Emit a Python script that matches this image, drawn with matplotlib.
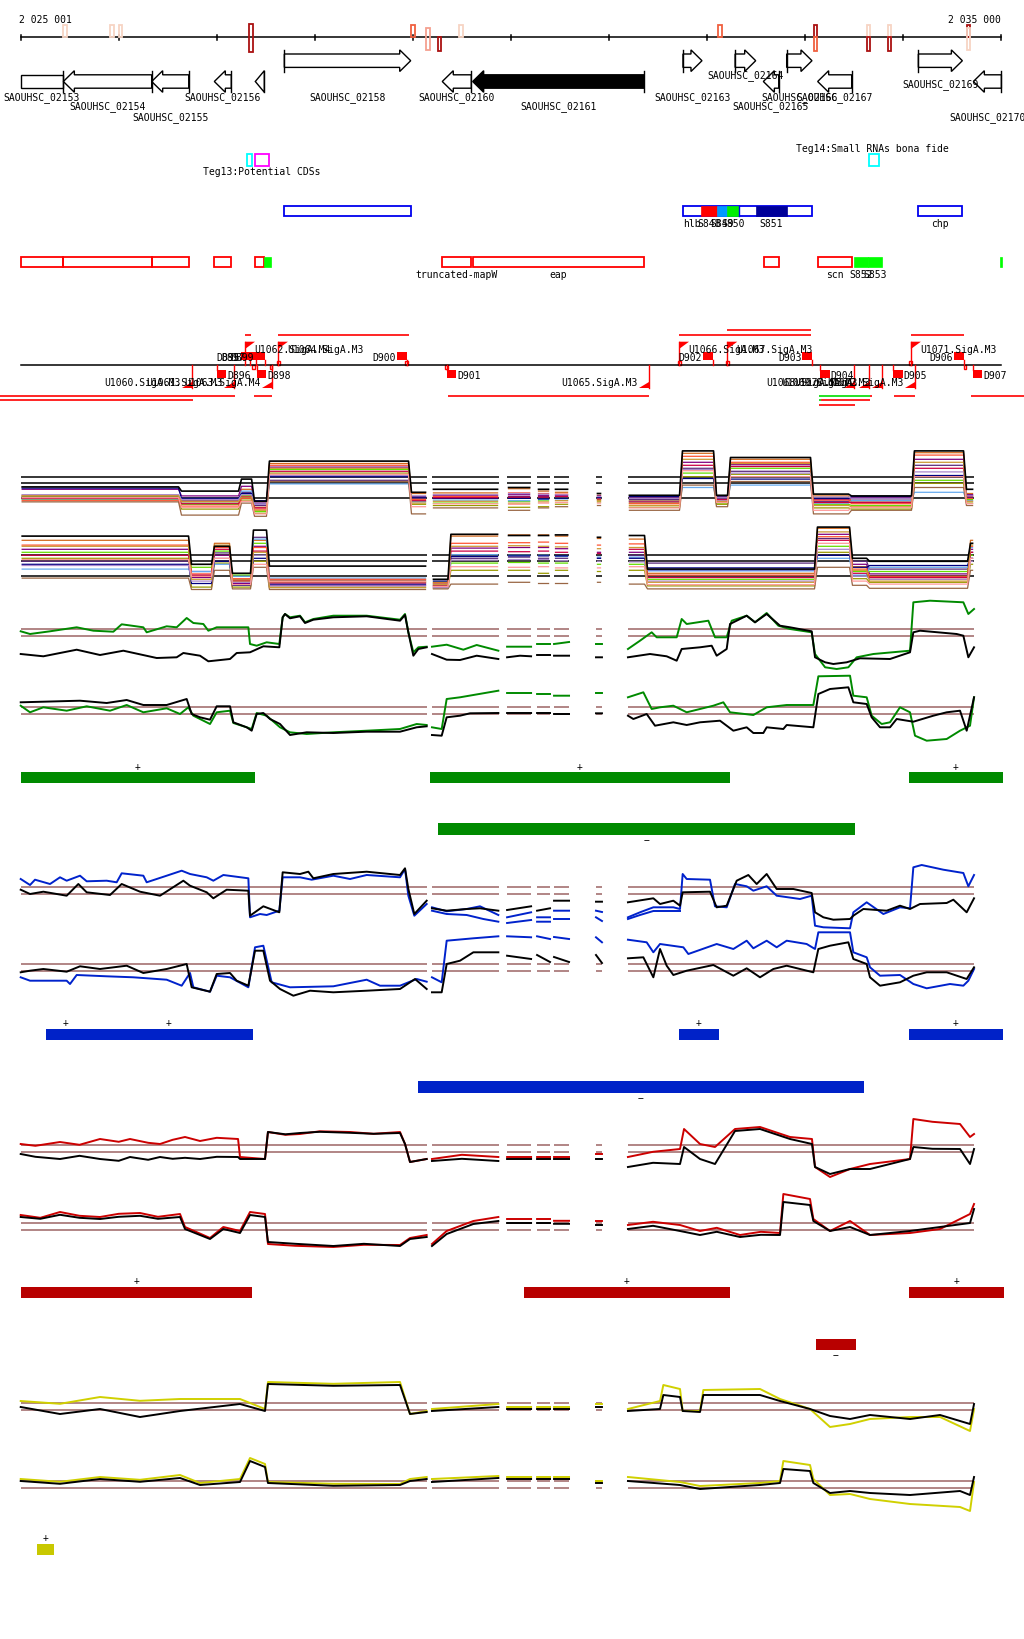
import numpy as np
import matplotlib
matplotlib.use("Agg")
import matplotlib.pyplot as plt
from matplotlib.patches import Rectangle, Polygon

# ======================= DATA (positions = bp offset from 2 025 001) =======================
scale_ticks = [0, 999, 1999, 2999, 3999, 4999, 5999, 6999, 7999, 8999, 9999]
scale_first, scale_last = "2 025 001", "2 035 000"

mark_pos = [452, 931, 1017, 2349, 4004, 4157, 4270, 4491, 7133, 8109, 8109, 8646, 8646, 8860, 8860, 9666, 9666]
mark_color = ['#f7d4c4', '#f7d4c4', '#f7d4c4', '#aa1111', '#f06040', '#f4a090', '#aa1111', '#f7d4c4',
              '#f06040', '#aa1111', '#f06040', '#f7d4c4', '#aa1111', '#f7d4c4', '#aa1111', '#aa1111', '#f7d4c4']
mark_kind = ['up', 'up', 'up', 'full', 'up', 'mid', 'down', 'up', 'up', 'up', 'down', 'up', 'down', 'up', 'down', 'up', 'mid']

gene_names = ['SAOUHSC_02153', 'SAOUHSC_02154', 'SAOUHSC_02155', 'SAOUHSC_02156', '', 'SAOUHSC_02158',
              'SAOUHSC_02160', 'SAOUHSC_02161', 'SAOUHSC_02163', 'SAOUHSC_02164', 'SAOUHSC_02165',
              'SAOUHSC_02166', 'SAOUHSC_02167', 'SAOUHSC_02169', 'SAOUHSC_02170']
gene_start = [-400, 435, 1336, 1975, 2393, 2689, 4300, 4610, 6755, 7287, 7575, 7813, 8129, 9156, 9717]
gene_end = [435, 1336, 1714, 2148, 2485, 3978, 4596, 6358, 6949, 7497, 7732, 8071, 8476, 9605, 10003]
gene_strand = ['-', '-', '-', '-', '-', '+', '-', '-', '+', '+', '-', '+', '-', '+', '-']
gene_solid = [False] * 7 + [True] + [False] * 7
gene_label_row = [2, 3, 4, 2, None, 2, 2, 3, 2, 0, 3, 2, 2, 1, 4]

teg_boxes = [(2311, 2362, 'cyan'), (2393, 2536, 'magenta'), (8656, 8758, 'cyan')]
teg_labels = [("Teg13:Potential CDSs", 2454, 'below'), ("Teg14:Small RNAs bona fide", 8688, 'above')]

blue_outline = [(2689, 3978), (6755, 8071), (9156, 9605)]
blue_fills = [(6942, 7105, '#ff0000'), (7105, 7207, '#0099ff'), (7207, 7324, '#00ee00'), (7499, 7819, '#000099')]
blue_labels = [("hlb", 6842), ("S848", 7023), ("S849", 7156), ("S850", 7265), ("S851", 7659), ("chp", 9380)]

red_outline = [(0, 435), (435, 1336), (1336, 1714), (1975, 2148), (2393, 2485), (4300, 4596),
               (4610, 6358), (7578, 7732), (8129, 8476)]
red_fills = [(2485, 2553), (8500, 8640), (8640, 8782), (9992, 10012)]
red_labels = [("truncated-mapW", 4448), ("eap", 5484), ("scn", 8302), ("S852", 8570), ("S853", 8711)]

prom_plus_names = ["U1062.SigA.M4", "U1064.SigA.M3", "U1066.SigA.M3", "U1067.SigA.M3", "U1071.SigA.M3"]
prom_plus_pos = [2288, 2624, 6715, 7207, 9080]
prom_minus_names = ["U1060.SigA.M3", "U1061.SigA.M3", "U1063.SigA.M4", "U1065.SigA.M3",
                    "U1068.SigA.M3", "U1069.SigA.M3", "U1070.SigA.M3", "U1072.SigA.M3"]
prom_minus_pos = [1751, 2179, 2560, 6409, 8500, 8656, 8782, 9122]
term_plus_names = ["D895", "D897", "D899", "D900", "D902", "D903", "D906"]
term_plus_pos = [2244, 2300, 2393, 3841, 6963, 7974, 9520]
term_minus_names = ["D896", "D898", "D901", "D904", "D905", "D907"]
term_minus_pos = [1999, 2407, 4345, 8153, 8898, 9713]
tss_plus_pos = [2626, 3937, 6715, 7207, 9080]
tss_minus_pos = [2376, 2553, 4345, 9632]
# (row, start, end, color)
feature_lines = [(0, 2624, 3958, 'r'), (0, 2288, 2346, 'r'), (0, 6715, 8061, 'r'), (-1, 7207, 8061, 'r'),
                 (0, 9080, 9624, 'r'), (1, -211, 2186, 'r'), (2, -211, 1754, 'r'), (1, 2383, 2560, 'r'),
                 (1, 4362, 6409, 'r'), (1, 8909, 9122, 'r'), (1, 9690, 10240, 'r'), (1, 8144, 8663, 'g'),
                 (2, 8144, 8164, 'g'), (2, 8164, 8663, 'r'), (3, 8144, 8507, 'r'), (1, 8663, 8687, 'r')]

# probe gaps (no data)
gaps = [(4144, 4195), (4879, 4961), (5206, 5267), (5399, 5440), (5593, 5868), (5929, 6194)]
data_end = 9724

# ---------- multi-condition tracks (levels per data interval) ----------
mt_colors = ['#000000', '#5a2a7a', '#d2691e', '#800080', '#66dd00', '#999900', '#66aaee',
             '#000080', '#ff5533', '#996644', '#cc0044', '#aa88cc', '#cc9933', '#ff9999']
mt_refs = [0, 2.5, 3.5]
mtA_edges = [0, 1625, 2237, 2370, 2522, 3971, 4144, 4195, 4879, 4961, 5206, 5267, 5399, 5440, 5593,
             5868, 5929, 6194, 6735, 7082, 7225, 8071, 8459, 9101, 9632, 9724]
mtA_levels = [
    [1.9, 1.2, 3.2, -0.5, 6.2, 1.0, 1.5, 1.8, 1.5, 1.5, 0.8, 0.5, 7.9, 0.5, 6.8, 0.7, 0.4, 7.9, 1.5],
    [0.3, -0.3, 1.0, -1.2, 3.0, 0.0, 0.2, 0.3, 0.3, 0.2, 0.2, -0.2, 5.0, 0.0, 4.5, -0.5, -0.3, 5.5, 0.5],
    [0.5, -0.5, 1.5, -1.5, 5.8, 0.8, 0.9, 1.6, 1.2, 1.0, 0.5, -0.4, 7.5, 0.2, 6.5, 0.4, -0.6, 7.6, 0.8],
    [1.5, 0.4, 2.0, -0.8, 5.2, 0.3, 0.5, 0.6, 0.5, 0.5, 0.4, 0.2, 6.0, 0.4, 5.6, -0.2, 0.1, 6.5, 0.6],
    [0.2, -1.0, 0.5, -2.2, 4.8, -0.5, -0.8, -0.5, -0.3, 0.0, -0.2, -0.8, 4.2, -0.8, 5.0, -1.0, -1.2, 3.0, -0.2],
    [-0.2, -1.8, -0.3, -2.5, 4.2, -1.0, -1.2, -1.5, -1.4, -1.0, -0.6, -1.5, 3.6, -1.0, 4.0, -1.6, -1.8, 2.5, -0.8],
    [-0.1, -0.8, 1.2, -1.0, 2.4, -0.6, -0.3, -0.4, -0.2, -0.3, 0.0, -0.5, 1.8, -0.3, 2.2, -0.8, -0.4, 1.0, -0.4],
    [1.7, 0.0, 0.8, -0.4, 3.6, 0.2, 0.0, 0.0, -0.1, 0.0, 0.1, 0.3, 3.3, 0.2, 3.2, 0.0, 0.3, 3.8, 0.2],
    [-0.4, -1.3, 0.0, -1.8, 5.5, -0.2, 0.3, 0.9, 0.8, 0.7, -0.3, -0.9, 7.0, -0.5, 6.0, -0.3, -0.9, 7.2, 0.0],
    [-0.6, -2.8, -0.8, -3.0, 2.8, -2.6, -1.6, -2.0, -1.6, -1.4, -1.2, -2.0, 2.2, -1.4, 2.8, -2.6, -2.0, 1.8, -1.2],
    [0.0, -0.9, 0.3, -1.6, 4.5, -0.4, 0.1, 0.2, 0.2, 0.3, -0.1, -0.6, 5.5, -0.2, 5.3, -0.7, -0.7, 5.0, 0.3],
    [0.6, -0.2, 0.6, -1.0, 3.8, 0.4, 0.6, 0.8, 0.7, 0.6, 0.3, 0.0, 4.8, 0.1, 4.2, 0.2, 0.0, 4.4, 0.4],
    [0.4, -0.6, 0.2, -2.0, 5.0, -0.8, -0.5, -0.8, -0.6, -0.4, -0.4, -1.2, 6.5, -0.6, 5.8, -1.2, -1.4, 6.0, -0.5],
    [0.1, -1.5, -0.5, -2.6, 4.0, -1.4, -0.9, -1.0, -0.8, -0.7, -0.8, -1.6, 4.6, -0.7, 3.6, -2.0, -1.5, 3.6, -0.9],
]
mtB_edges = [0, 1727, 1961, 2145, 2359, 2522, 4144, 4195, 4373, 4879, 4961, 5206, 5267, 5399, 5440, 5593,
             5868, 5929, 6194, 6378, 8112, 8469, 8643, 9673, 9724]
mtB_levels = [
    [6.7, 2.0, 5.0, 0.5, 7.7, 1.7, -0.5, 7.0, 6.8, 6.8, 6.9, 6.5, 6.8, 1.2, 8.2, 3.0, 2.5, 5.5],
    [2.5, 0.8, 3.9, -0.5, 6.5, -0.6, -1.5, 3.0, 3.2, 3.0, 3.0, 3.0, 3.5, 2.2, 6.3, 2.5, 1.2, 4.0],
    [6.0, 0.0, 5.5, -0.9, 6.0, -0.8, -1.2, 6.7, 6.9, 6.9, 6.7, 6.3, 6.2, 0.5, 8.0, 1.6, -0.5, 6.0],
    [4.5, -0.2, 3.5, -1.2, 5.0, -1.5, -1.8, 4.7, 4.8, 4.8, 4.6, 4.0, 4.0, 1.0, 7.0, 2.0, 0.4, 4.5],
    [4.0, 1.5, 4.2, 0.2, 5.5, -1.0, -1.0, 2.2, 2.3, 2.2, 2.2, 2.0, 2.0, -0.5, 5.0, 0.8, 0.8, 3.5],
    [3.0, -1.8, 2.2, -1.8, 2.5, -1.8, -2.0, 1.0, 1.0, 0.5, 1.0, 0.8, 1.0, -1.6, 4.0, -0.4, -1.0, 2.0],
    [1.2, 0.8, 2.0, 0.0, 6.2, -0.3, -1.3, 3.6, 3.5, 3.5, 3.3, 3.2, 3.2, 0.9, 3.0, 0.2, 1.5, 4.8],
    [2.0, -1.2, 2.5, -1.5, 3.0, -1.3, -0.8, 3.3, 3.4, 3.4, 3.4, 3.0, 3.0, 1.4, 3.5, 1.5, 1.8, 3.0],
    [5.2, 0.4, 4.8, -0.4, 4.8, -0.5, -1.1, 5.5, 5.6, 5.7, 5.5, 5.2, 5.4, 0.2, 6.6, 1.2, 0.0, 5.0],
    [-0.3, -2.2, 1.0, -2.1, 1.5, -2.2, -2.1, -1.3, -1.0, -1.2, -1.2, -1.0, -1.3, -2.1, 1.5, -1.5, -2.0, 1.0],
    [3.5, 0.2, 4.5, -0.7, 4.2, -1.1, -1.6, 4.2, 4.1, 4.2, 4.0, 3.8, 4.5, -0.2, 6.0, 0.5, -0.2, 4.0],
    [1.8, -0.8, 3.0, -1.0, 3.5, -1.6, -1.9, 2.7, 2.8, 2.8, 2.6, 2.5, 2.4, -0.8, 4.5, 0.0, -0.5, 2.5],
    [5.0, -0.5, 5.2, -0.6, 4.0, -1.9, -1.4, 5.0, 5.1, 5.0, 4.9, 4.6, 4.8, -1.0, 7.4, 1.0, -0.8, 5.2],
    [2.8, 0.0, 3.0, -1.4, 2.0, -0.9, -1.7, 1.6, 1.5, 1.6, 1.4, 1.4, 1.6, -1.4, 5.5, -0.8, -1.3, 3.0],
]

# ---------- two-line tracks ----------
g1_green_x = [0,95,299,571,741,945,1030,1251,1285,1489,1591,1693,1761,1863,1914,1999,2322,2339,2407,2509,2638,2672,2696,2747,2849,2900,2985,3189,3529,3869,3920,3954,4005,4056,4141,4195,4345,4515,4651,4872,4961,5206,5267,5399,5440,5593,5868,5929,6194,6317,6436,6487,6691,6742,6793,7014,7082,7201,7252,7405,7490,7609,7728,7847,8068,8102,8205,8323,8442,8527,8697,9071,9105,9275,9615,9666,9724]
g1_green_y = [0.15,-0.12,0.15,0.55,0.21,0.11,0.85,0.55,0.05,0.65,0.55,1.48,0.98,0.88,0.21,0.55,0.55,-1.12,-1.29,-0.95,-1.12,1.55,1.88,1.55,1.71,1.05,1.38,1.71,1.71,1.31,1.88,0.05,-1.95,-1.45,-1.39,-1.39,-1.19,-1.69,-1.22,-1.79,-1.39,-1.39,-1.12,-1.12,-1.12,-0.92,-1.12,-1.12,-1.62,-0.79,0.05,-0.45,-0.45,1.38,0.88,1.21,-0.45,-0.45,1.21,1.71,1.05,1.98,0.71,0.38,0.05,-2.12,-3.45,-3.62,-3.45,-2.45,-2.12,-1.79,3.05,3.21,3.05,1.88,2.38]
g1_black_x = [0,231,571,809,1047,1387,1591,1659,1829,1914,2135,2203,2339,2475,2638,2672,2696,2747,2849,2900,2985,3189,3529,3869,3920,3954,4005,4056,4141,4195,4345,4481,4651,4872,4961,5093,5206,5267,5399,5440,5593,5868,5929,6194,6419,6589,6691,6742,6929,7048,7099,7201,7235,7405,7490,7609,7745,7847,8068,8102,8205,8289,8425,8561,8867,9071,9105,9173,9547,9615,9666,9724]
g1_black_y = [-2.12,-2.35,-1.69,-2.22,-1.79,-2.52,-2.45,-2.02,-2.29,-2.85,-2.62,-2.02,-1.95,-1.35,-1.45,1.55,1.88,1.45,1.65,0.98,1.31,1.55,1.65,1.21,1.78,0.05,-2.29,-1.62,-1.45,-2.12,-2.69,-2.72,-2.29,-2.62,-2.45,-2.29,-2.35,-2.22,-2.22,-2.29,-2.29,-2.45,-2.45,-2.45,-2.12,-2.35,-2.79,-1.62,-1.45,-1.29,-2.29,-1.62,0.88,1.71,1.05,1.88,0.71,0.55,0.15,-2.45,-2.95,-3.12,-2.95,-2.55,-2.62,-1.95,0.05,0.21,-0.12,-0.29,-2.45,-1.45]
g2_black_x = [0,231,605,877,1081,1251,1489,1693,1744,1829,1931,1999,2135,2169,2305,2356,2407,2475,2543,2645,2747,2917,3189,3529,3869,4039,4141,4195,4294,4345,4481,4583,4872,4961,5206,5267,5399,5440,5593,5868,5929,6194,6249,6385,6470,6657,6793,6929,7133,7269,7405,7473,7575,7609,7779,7813,8085,8136,8255,8442,8493,8629,8680,8765,8867,8935,9105,9309,9445,9581,9649,9724]
g2_black_y = [0.85,0.91,1.01,0.78,1.08,0.58,0.58,1.18,-0.32,-0.65,-0.89,0.45,0.45,-1.15,-1.65,-1.99,-0.32,-0.22,-0.82,-1.32,-2.42,-2.15,-2.22,-2.09,-2.09,-1.65,-1.55,-2.42,-2.49,-0.65,-0.49,-0.25,-0.22,-0.22,-0.22,-0.22,-0.22,-0.32,-0.32,-0.25,-0.25,-0.49,-0.82,-0.32,-1.49,-1.15,-1.42,-1.15,-0.99,-1.99,-1.65,-2.22,-2.22,-1.65,-1.82,-1.42,-1.65,1.68,2.18,2.35,0.85,0.68,-0.65,-1.65,-1.65,-0.82,-1.09,-0.49,-0.15,0.01,-1.99,1.35]
g2_green_x = [0,95,231,469,673,911,1081,1251,1489,1625,1710,1761,1931,1999,2135,2169,2305,2356,2407,2509,2645,2747,2917,3189,3529,3869,4039,4141,4195,4294,4345,4481,4617,4872,4961,5206,5267,5399,5440,5593,5868,5929,6194,6351,6436,6521,6657,6793,7065,7167,7235,7473,7609,7813,8085,8136,8459,8493,8629,8680,8782,8867,8969,9071,9122,9241,9445,9581,9683,9724]
g2_green_y = [0.51,-0.15,0.35,0.01,0.45,0.01,0.58,-0.15,0.25,-0.32,0.35,-0.49,-1.32,-0.15,0.01,-1.22,-1.65,-1.82,-0.22,-0.49,-1.65,-2.15,-2.32,-2.15,-1.99,-1.82,-1.32,-1.42,-1.65,-1.82,1.18,1.35,1.58,2.01,1.78,1.78,1.68,1.68,1.51,1.51,1.78,1.78,1.35,1.85,0.18,0.35,0.51,-0.15,0.51,0.85,-0.15,-0.42,0.35,0.58,0.58,3.45,3.51,1.51,1.35,-0.49,-1.32,-1.15,0.35,-0.15,-2.49,-2.99,-2.82,-1.99,-1.49,1.35]

b1_blue_x = [0,95,146,299,401,469,605,673,877,979,1030,1251,1285,1489,1642,1727,1897,1965,2067,2322,2339,2441,2509,2638,2672,2849,2968,3189,3359,3529,3869,3920,3954,4015,4141,4195,4345,4549,4685,4872,4961,5206,5267,5399,5440,5593,5868,5929,6194,6317,6453,6657,6725,6752,6793,7031,7082,7201,7286,7405,7473,7609,7711,7949,8068,8102,8187,8459,8493,8629,8799,8969,9071,9105,9190,9411,9615,9666,9724]
b1_blue_y = [1.18,0.58,1.11,0.68,1.35,1.01,1.51,0.95,1.01,0.85,1.75,1.51,0.85,1.51,2.01,1.68,1.35,1.01,1.58,1.25,-2.65,-2.32,-2.42,-1.99,1.35,1.35,1.11,1.51,1.18,1.58,1.35,2.18,-0.49,-2.49,-1.32,-1.65,-2.05,-1.82,-1.55,-2.42,-2.65,-2.15,-2.65,-2.65,-1.99,-1.99,-1.99,-2.12,-2.65,-2.15,-1.65,-1.65,-1.82,1.68,1.18,1.11,-1.55,-1.65,0.68,0.45,0.01,0.45,-0.49,-0.82,-0.49,-3.49,-3.65,-3.75,-2.15,-1.15,-2.32,-1.65,-1.75,2.35,2.58,2.11,1.78,0.45,1.58]
b1_blue2_x = [4195,4345,4549,4719,4872,4961,5206,5267,5399,5440,5593,5868,5929,6194,6317,6453,6725]
b1_blue2_y = [-1.99,-2.32,-2.42,-2.82,-3.09,-3.22,-2.92,-3.09,-3.09,-2.82,-2.82,-2.65,-3.02,-2.82,-2.42,-2.02,-2.02]
b1_black_x = [0,95,231,469,588,673,911,1030,1217,1421,1659,1727,1897,1965,2101,2322,2339,2475,2638,2672,2849,2934,2985,3189,3529,3869,3920,3954,4015,4141,4195,4345,4549,4685,4872,4961,5206,5267,5399,5440,5593,5868,5929,6194,6453,6521,6657,6725,6752,7031,7099,7201,7303,7422,7507,7609,7711,7881,8068,8102,8187,8289,8459,8493,8595,8833,8969,9071,9173,9445,9513,9649,9724]
b1_black_y = [0.11,-0.32,-0.09,-0.49,0.68,-0.15,-0.42,0.68,-0.09,-0.49,1.01,0.51,-0.15,-0.75,0.11,0.01,-2.49,-1.55,-2.15,1.85,1.68,1.91,1.25,1.68,1.91,1.58,2.25,0.18,-2.32,-0.99,-1.75,-1.99,-1.82,-1.75,-1.99,-1.92,-1.55,-1.99,-1.75,-0.99,-0.99,-1.09,-1.09,-1.15,-0.75,-1.32,-0.99,-1.49,-0.15,-0.09,-1.65,-1.49,1.01,1.58,0.68,1.68,0.18,0.18,-0.22,-2.15,-2.65,-2.89,-2.82,-2.49,-1.82,-1.99,-1.49,-1.82,-1.32,-1.22,-0.89,-2.15,-0.75]
b2_blue_x = [0,95,469,503,571,877,1149,1489,1642,1727,1761,1931,1999,2135,2322,2390,2475,2560,2747,3189,3529,3665,3869,4039,4141,4195,4294,4345,4617,4872,4961,5206,5267,5399,5440,5593,5868,5929,6194,6385,6453,6521,6759,6810,7099,7269,7405,7473,7609,7711,7813,8017,8102,8136,8459,8493,8629,8663,8765,8969,9105,9241,9479,9615,9666,9724]
b2_blue_y = [-0.95,-1.29,-1.29,-1.62,-0.72,-0.85,-0.95,-1.19,-1.79,-0.52,-1.95,-2.39,-0.79,-0.95,-1.95,2.05,2.21,-1.45,-1.95,-1.85,-1.19,-1.79,-1.79,-1.12,-1.39,-0.95,-1.45,2.71,2.95,3.15,3.15,3.05,3.15,2.88,3.08,2.88,3.05,2.55,2.81,2.55,1.55,2.38,2.05,1.38,2.38,1.88,2.71,1.95,2.71,2.05,2.71,2.38,1.88,3.55,3.55,1.55,1.05,0.05,-0.79,-0.72,-1.62,-2.05,-1.62,-1.79,-1.29,-0.12]
b2_black_x = [0,95,231,469,605,809,1081,1251,1489,1693,1744,1931,1999,2135,2203,2322,2390,2475,2543,2645,2781,2951,3189,3529,3869,4022,4141,4195,4294,4345,4481,4617,4872,4961,5206,5267,5399,5440,5593,5868,5929,6194,6351,6453,6521,6589,6657,6793,7065,7269,7405,7541,7677,7813,8085,8136,8255,8442,8493,8629,8663,8765,8969,9105,9241,9445,9649,9724]
b2_black_y = [-0.45,-0.29,-0.12,-0.39,0.15,-0.12,0.21,-0.52,-0.12,0.38,-1.95,-2.39,-0.62,-0.52,-1.29,-1.79,1.71,1.71,-1.29,-2.12,-2.79,-2.29,-2.45,-2.29,-2.12,-1.12,-2.12,-2.45,-2.45,0.38,0.71,1.55,1.55,1.21,0.88,1.28,0.58,1.08,0.58,1.28,0.48,0.95,1.05,-0.95,1.88,0.21,-0.72,-0.29,0.28,-0.79,-0.05,-0.95,-0.12,0.21,-0.45,1.88,2.21,2.55,0.88,0.38,-0.95,-1.79,-1.45,-0.79,-0.45,-0.45,-1.12,0.05]

r_x1 = [0,150,401,600,809,1000,1115,1300,1421,1550,1676,1829,2000,2217,2237,2492,2522,2700,2849,3050,3359,3600,3869,3920,3971,4141,4195,4500,4872,4961,5206,5267,5399,5440,5593,5868,5929,6194,6450,6725,6766,6929,7082,7286,7541,7847,8071,8102,8255,8459,8663,9071,9105,9300,9581,9683,9724]
r1_red_y = [0.48,0.3,0.68,0.4,0.98,0.7,0.98,0.6,0.48,0.9,1.18,0.78,1.1,0.98,-0.82,-1.02,1.68,1.4,1.48,1.75,1.68,1.5,1.68,0.48,-1.32,-1.02,-1.02,-0.6,-0.82,-0.82,-0.82,-0.82,-0.82,-0.82,-0.82,-0.52,-0.52,-0.82,-0.3,-0.02,1.98,0.48,0.18,1.98,2.18,1.18,0.98,-1.82,-2.82,-2.02,-1.52,-1.02,2.98,2.7,2.48,1.18,1.48]
r1_black_y = [-0.52,-0.8,-1.02,-0.7,-1.02,-1.2,-0.82,-1.1,-0.82,-1.0,-0.9,-1.02,-0.8,-0.82,-1.02,-1.02,1.68,1.45,1.58,1.7,1.6,1.5,1.58,0.48,-1.32,-1.02,-1.22,-1.0,-1.22,-1.02,-1.02,-1.02,-1.02,-1.02,-1.02,-1.02,-1.02,-1.82,-1.4,-1.52,0.18,-1.02,-1.52,1.78,1.98,0.98,0.48,-1.82,-2.52,-2.02,-2.02,-1.02,0.18,0.0,-0.02,-1.52,-0.02]
r_x2 = [0,200,401,600,809,1000,1217,1400,1625,1676,1931,2067,2237,2339,2492,2522,2800,3189,3500,3869,3971,4141,4195,4345,4617,4872,4961,5206,5267,5399,5440,5593,5868,5929,6194,6450,6725,6929,7100,7337,7550,7745,7779,8051,8085,8255,8459,8663,9071,9377,9683,9724]
r2_red_y = [1.18,0.9,1.48,1.1,0.98,1.3,1.38,1.0,1.28,-0.02,-1.12,-0.02,-0.42,1.48,1.28,-1.72,-1.9,-2.02,-1.8,-1.82,-1.12,-0.82,-1.72,-0.42,0.58,0.98,0.78,0.78,0.78,0.78,0.6,0.6,0.58,0.58,0.18,0.5,0.18,-0.42,-0.1,-0.82,-0.5,-0.62,3.28,2.78,0.78,-0.42,0.58,-0.82,-0.62,-0.22,1.28,2.28]
r2_black_y = [0.98,0.8,1.2,0.9,0.78,1.0,1.1,0.8,0.98,-0.22,-1.22,-0.22,-0.62,1.18,0.98,-1.52,-1.7,-1.92,-1.7,-1.92,-1.22,-1.02,-1.92,-0.72,0.28,0.58,0.38,0.38,0.38,0.38,0.3,0.3,0.18,0.18,-0.22,0.1,-0.42,-0.82,-0.5,-1.02,-0.8,-0.82,2.48,2.18,0.58,-0.42,-0.02,-0.82,-0.42,-0.02,0.38,1.78]

y_x1 = [0,401,809,1217,1625,2237,2492,2522,3189,3869,3971,4141,4195,4872,4961,5206,5267,5399,5440,5593,5868,5929,6194,6521,6555,6725,6752,6929,6963,7541,7745,8051,8255,8459,8663,9071,9377,9683,9724]
y1_yel_y = [0.58,0.3,0.98,0.6,0.78,0.78,-0.22,2.48,2.3,2.48,-0.72,-0.42,-0.22,0.28,-0.02,-0.02,-0.02,-0.02,-0.02,-0.02,0.28,0.28,-0.22,0.58,2.18,1.78,-0.42,-0.42,1.68,1.78,0.78,-0.22,-2.02,-1.72,-1.22,-1.02,-1.02,-2.42,-0.22]
y1_black_y = [-0.02,-0.72,-0.22,-1.02,-0.42,0.28,-0.42,2.28,2.1,2.18,-0.72,-0.52,-0.42,-0.02,-0.22,-0.22,-0.22,-0.22,-0.22,-0.22,-0.02,-0.02,-0.42,-0.22,1.18,0.98,-0.42,-0.52,1.18,1.18,0.58,-0.22,-0.92,-1.22,-0.82,-1.22,-0.82,-1.72,0.28]
y_x2 = [0,401,809,1217,1625,1829,2237,2339,2492,2522,3189,3869,3971,4141,4195,4872,4961,5206,5267,5399,5440,5593,5868,5929,6194,6725,6929,7541,7745,7779,8051,8085,8255,8459,8663,9071,9581,9683,9724]
y2_yel_y = [0.58,0.3,0.78,0.5,0.98,0.18,0.58,2.68,2.08,0.28,0.1,0.08,0.58,0.78,0.58,0.88,0.78,0.78,0.78,0.78,0.78,0.78,0.38,0.38,0.78,0.28,-0.12,0.18,0.38,2.38,1.98,0.58,-1.02,-0.92,-1.42,-1.92,-2.22,-2.62,0.28]
y2_black_y = [0.38,0.1,0.58,0.3,0.68,-0.02,0.28,2.38,1.78,0.18,-0.1,-0.02,0.38,0.58,0.28,0.68,0.58,0.58,0.58,0.58,0.58,0.58,0.18,0.18,0.38,-0.02,-0.42,-0.02,0.18,1.58,1.38,0.18,-0.82,-0.62,-0.82,-1.02,-0.62,-1.02,0.78]
two_refs = [-0.35, 0.35]

# segment calls (start, end)
green_plus = [(0, 2392), (4175, 7235), (9060, 10017)]
green_minus = [(4260, 8510)]
blue_plus = [(258, 652), (652, 2367), (6712, 7123), (9060, 10017)]
blue_minus = [(4056, 8598)]
red_plus = [(0, 2359), (5134, 7235), (9060, 10034)]
red_minus = [(8112, 8520)]
yellow_plus = [(166, 340)]
yellow_minus = []

# ======================= LAYOUT / STYLE =======================
W, H = 1024, 1640
BP = 10.2          # bp per pixel
LEFT = 20.7        # pixel of window start
X0, X1 = -LEFT * BP, (W - LEFT) * BP
FONT = dict(fontsize=7, family='DejaVu Sans Mono', color='black')
RED = '#ff0000'

fig = plt.figure(figsize=(W / 100, H / 100), dpi=100)
fig.patch.set_facecolor('white')
ax = fig.add_axes([0, 0, 1, 1])
ax.set_xlim(X0, X1)
ax.set_ylim(H, 0)
ax.axis('off')

# ---- scale ----
AXY = 38.3
ax.plot([scale_ticks[0], scale_ticks[-1]], [AXY, AXY], color='black', lw=1.1)
for t in scale_ticks:
    ax.plot([t, t], [AXY - 2.5, AXY + 2.5], color='black', lw=1.1)
ax.text(-15, 20, scale_first, ha='left', va='center', **FONT)
ax.text(9995, 20, scale_last, ha='right', va='center', **FONT)
kind_y = {'up': (26.0, 38.3), 'full': (25.3, 52.7), 'mid': (29.3, 50.7), 'down': (38.3, 52.3)}
for p, c, k in zip(mark_pos, mark_color, mark_kind):
    y0, y1 = kind_y[k]
    ax.add_patch(Rectangle((p - 18, y0), 36, y1 - y0, fill=False, edgecolor=c, lw=1.3, zorder=3))

# ---- genes ----
HEAD = 11 * BP
row_y = {'+': 61.7, '-': 82.5}
label_rows = [76, 85, 97.3, 106.5, 118]
SH, HH = 6.7, 10.8
for name, s, e, st, solid, lr in zip(gene_names, gene_start, gene_end, gene_strand, gene_solid, gene_label_row):
    yc = row_y[st]
    clipped = s < 0
    s = max(s, 0)
    L = e - s
    if clipped:
        pts = [(s, yc - SH), (e, yc - SH), (e, yc + SH), (s, yc + SH)]
    elif st == '+':
        if L > HEAD:
            pts = [(s, yc - SH), (e - HEAD, yc - SH), (e - HEAD, yc - HH), (e, yc), (e - HEAD, yc + HH),
                   (e - HEAD, yc + SH), (s, yc + SH)]
        else:
            pts = [(s, yc - HH), (e, yc), (s, yc + HH)]
    else:
        if L > HEAD:
            pts = [(e, yc - SH), (s + HEAD, yc - SH), (s + HEAD, yc - HH), (s, yc), (s + HEAD, yc + HH),
                   (s + HEAD, yc + SH), (e, yc + SH)]
        else:
            pts = [(e, yc - HH), (s, yc), (e, yc + HH)]
    ax.add_patch(Polygon(pts, closed=True, facecolor='black' if solid else 'white', edgecolor='black', lw=1.0, zorder=2))
    bx = s if st == '+' else e
    ax.plot([bx, bx], [yc - HH, yc + HH], color='black', lw=1.0, zorder=3)
    if name and lr is not None:
        ax.text((s + e) / 2, label_rows[lr], name, ha='center', va='center', **FONT)

# ---- Teg tracks ----
for a, b, c in teg_boxes:
    ax.add_patch(Rectangle((a, 155.3), b - a, 11.4, fill=False, edgecolor=c, lw=1.3))
for txt, x, pos in teg_labels:
    ax.text(x, 172.3 if pos == 'below' else 149, txt, ha='center', va='center', **FONT)

# ---- blue annotation track ----
for a, b in blue_outline:
    ax.add_patch(Rectangle((a, 207.3), b - a, 10, fill=False, edgecolor='#0000ee', lw=1.3))
for a, b, c in blue_fills:
    ax.add_patch(Rectangle((a, 207.3), b - a, 10, facecolor=c, edgecolor=c, lw=0.5))
ax.plot([7324, 7324], [207.3, 217.3], color='#0000ee', lw=1.0)
for txt, x in blue_labels:
    ax.text(x, 224.3, txt, ha='center', va='center', **FONT)

# ---- red annotation track ----
for a, b in red_outline:
    ax.add_patch(Rectangle((a, 258.3), b - a, 10, fill=False, edgecolor=RED, lw=1.3))
for a, b in red_fills:
    ax.add_patch(Rectangle((a, 258.3), b - a, 10, facecolor='#00ff00', edgecolor='#00ff00', lw=0.5))
for txt, x in red_labels:
    ax.text(x, 275, txt, ha='center', va='center', **FONT)

# ---- promoter / terminator track ----
BASE = 366.3
TRI = 10 * BP
SQ = 9.5 * BP
ax.plot([0, 9999], [BASE, BASE], color='black', lw=1.1)
for name, x in zip(prom_plus_names, prom_plus_pos):
    ax.add_patch(Polygon([(x, 342.7), (x + TRI, 342.7), (x, 350)], closed=True, color=RED, lw=0))
    ax.plot([x, x], [342.7, BASE], color=RED, lw=1.0)
    ax.text(x + 9 * BP, 350, name, ha='left', va='center', **FONT)
for name, x in zip(prom_minus_names, prom_minus_pos):
    ax.add_patch(Polygon([(x, 382.7), (x, 389.3), (x - TRI, 389.3)], closed=True, color=RED, lw=0))
    ax.plot([x, x], [BASE, 389.3], color=RED, lw=1.0)
    ax.text(x - 11.3 * BP, 382.7, name, ha='right', va='center', **FONT)
for name, x in zip(term_plus_names, term_plus_pos):
    ax.add_patch(Rectangle((x, 353.3), SQ, 7.7, color=RED, lw=0))
    ax.plot([x + SQ, x + SQ], [361, BASE], color=RED, lw=1.0)
    ax.text(x - 1 * BP, 357.9, name, ha='right', va='center', **FONT)
for name, x in zip(term_minus_names, term_minus_pos):
    ax.add_patch(Rectangle((x, 371), SQ, 8.3, color=RED, lw=0))
    ax.plot([x, x], [BASE, 371], color=RED, lw=1.0)
    ax.text(x + SQ + 1 * BP, 375.7, name, ha='left', va='center', **FONT)
for x in tss_plus_pos:
    ax.add_patch(Rectangle((x - 15, BASE - 4), 30, 4, fill=False, edgecolor=RED, lw=1.0))
for x in tss_minus_pos:
    ax.add_patch(Rectangle((x - 15, BASE), 30, 4, fill=False, edgecolor=RED, lw=1.0))
line_rows = {-1: 331, 0: 336, 1: 396.7, 2: 400.7, 3: 405.7}
for r, a, b, c in feature_lines:
    ax.plot([a, b], [line_rows[r]] * 2, color=RED if c == 'r' else '#00dd00', lw=1.2, solid_capstyle='butt')

# ======================= signal tracks =======================
def track_axes(zero_px, unit_px, vmin, vmax):
    top = zero_px - vmax * unit_px
    bot = zero_px - vmin * unit_px
    a = fig.add_axes([0, 1 - bot / H, 1, (bot - top) / H])
    a.set_xlim(X0, X1)
    a.set_ylim(vmin, vmax)
    a.axis('off')
    a.patch.set_alpha(0)
    return a


def in_gap(x):
    return any(g0 <= x <= g1 for g0, g1 in gaps)


blocks = []
prev = 0
for g0, g1 in gaps:
    blocks.append((prev, g0))
    prev = g1
blocks.append((prev, data_end))


def with_gaps(xs, ys):
    ox, oy = [], []
    for i in range(min(len(xs), len(ys))):
        if i > 0 and any(xs[i - 1] <= g0 and xs[i] >= g1 for g0, g1 in gaps):
            ox.append(np.nan)
            oy.append(np.nan)
        ox.append(xs[i])
        oy.append(ys[i])
    return ox, oy


def step_line(edges, levels):
    xs, ys = [], []
    it = iter(levels)
    for a, b in zip(edges[:-1], edges[1:]):
        if in_gap((a + b) / 2):
            xs.append(np.nan)
            ys.append(np.nan)
            continue
        v = next(it)
        xs += [a + 15, b - 15]
        ys += [v, v]
    return xs, ys


def ref_lines(a, refs, color, lw):
    for b0, b1 in blocks:
        for r in refs:
            a.plot([b0, b1], [r, r], color=color, lw=lw, solid_capstyle='butt', zorder=1)


# multi-condition tracks
for zero, edges, levels in [(499.3, mtA_edges, mtA_levels), (577.3, mtB_edges, mtB_levels)]:
    a = track_axes(zero, 6.0, -4, 9)
    ref_lines(a, mt_refs, 'black', 1.1)
    order = list(range(1, len(levels))) + [0]
    for i in order:
        xs, ys = step_line(edges, levels[i])
        a.plot(xs, ys, color=mt_colors[i], lw=0.9 if i > 0 else 1.2, zorder=2)

# two-line tracks
REFC = '#9c6464'
cond = [
    ('#008a00', 633.8, 711.8, 773.3, 824.0,
     [(g1_green_x, g1_green_y)], (g1_black_x, g1_black_y),
     [(g2_green_x, g2_green_y)], (g2_black_x, g2_black_y), green_plus, green_minus),
    ('#0022cc', 891.8, 968.8, 1030.0, 1082.3,
     [(b1_blue_x, b1_blue_y), (b1_blue2_x, b1_blue2_y)], (b1_black_x, b1_black_y),
     [(b2_blue_x, b2_blue_y)], (b2_black_x, b2_black_y), blue_plus, blue_minus),
    ('#cc0000', 1149.8, 1227.8, 1288.0, 1339.5,
     [(r_x1, r1_red_y)], (r_x1, r1_black_y),
     [(r_x2, r2_red_y)], (r_x2, r2_black_y), red_plus, red_minus),
    ('#d0d000', 1407.8, 1485.8, 1545.0, 1600.0,
     [(y_x1, y1_yel_y)], (y_x1, y1_black_y),
     [(y_x2, y2_yel_y)], (y_x2, y2_black_y), yellow_plus, yellow_minus),
]
bar_col = {'#008a00': '#008a00', '#0022cc': '#0022c8', '#cc0000': '#b80000', '#d0d000': '#c8c800'}
for col, c1, c2, pbar, mbar, s1c, s1k, s2c, s2k, plus, minus in cond:
    for c, colored, black in [(c1, s1c, s1k), (c2, s2c, s2k)]:
        a = track_axes(c, 10.0, -5, 5)
        ref_lines(a, two_refs, REFC, 1.1)
        for xs, ys in colored:
            gx, gy = with_gaps(xs, ys)
            a.plot(gx, gy, color=col, lw=1.4, zorder=2)
        bx, by = with_gaps(*black)
        a.plot(bx, by, color='black', lw=1.4, zorder=3)
    for s, e in plus:
        ax.add_patch(Rectangle((s, pbar), e - s, 10.5, color=bar_col[col], lw=0))
        ax.text((s + e) / 2, pbar - 6.7, '+', ha='center', va='center', **FONT)
    for s, e in minus:
        ax.add_patch(Rectangle((s, mbar), e - s, 11.5, color=bar_col[col], lw=0))
        ax.text((s + e) / 2, mbar + 17, '\u2212', ha='center', va='center', **FONT)

fig.savefig('out.png', dpi=100, facecolor='white')
